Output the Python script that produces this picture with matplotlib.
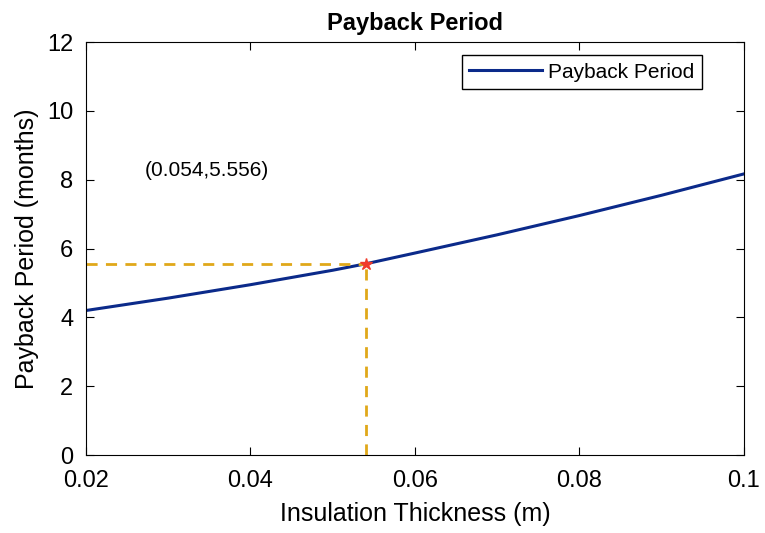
import matplotlib
matplotlib.use("Agg")
import matplotlib.pyplot as plt

plt.rcParams['font.family'] = ['Liberation Sans', 'DejaVu Sans']

# insulation thickness (m) and payback period (months)
thickness = [0.02, 0.03, 0.04, 0.05, 0.054, 0.06, 0.07, 0.08, 0.09, 0.10]
payback = [4.20, 4.56, 4.95, 5.37, 5.556, 5.87, 6.40, 6.96, 7.55, 8.17]

opt_x = 0.054
opt_y = 5.556

fig = plt.figure(figsize=(7.65, 5.33), dpi=100)
ax = fig.add_axes([0.1124, 0.1463, 0.8601, 0.7747])

ax.plot(thickness, payback, color='#0b2a8a', linewidth=2.2, label='Payback Period')
ax.plot([0.02, opt_x], [opt_y, opt_y], linestyle='--', color='#e0a81a', linewidth=2,
        dashes=(4, 3))
ax.plot([opt_x, opt_x], [0, opt_y], linestyle='--', color='#e0a81a', linewidth=2,
        dashes=(4, 3))
ax.plot(opt_x, opt_y, marker='*', color='#f03a2a', markersize=9, linestyle='none')
ax.text(0.0272, 8.28, '(%.3f,%.3f)' % (opt_x, opt_y), fontsize=15, va='center')

ax.set_xlim(0.02, 0.1)
ax.set_ylim(0, 12)
ax.set_xticks([0.02, 0.04, 0.06, 0.08, 0.1])
ax.set_xticklabels(['0.02', '0.04', '0.06', '0.08', '0.1'])
ax.set_yticks([0, 2, 4, 6, 8, 10, 12])
ax.tick_params(direction='in', top=True, right=True, labelsize=17, length=6)
ax.tick_params(axis='x', pad=11)
ax.tick_params(axis='y', pad=9)

ax.set_title('Payback Period', fontsize=17, fontweight='bold', y=1.0, pad=9)
ax.set_xlabel('Insulation Thickness (m)', fontsize=18, labelpad=7)
ax.set_ylabel('Payback Period (months)', fontsize=18, labelpad=6)

leg = ax.legend(loc='upper right', bbox_to_anchor=(0.936, 0.968), borderaxespad=0,
                fontsize=15, handlelength=3.5, fancybox=False, framealpha=1,
                handletextpad=0.3, borderpad=0.35)
leg.get_frame().set_edgecolor('black')
leg.get_frame().set_linewidth(1)

fig.savefig('out.png', dpi=100)
